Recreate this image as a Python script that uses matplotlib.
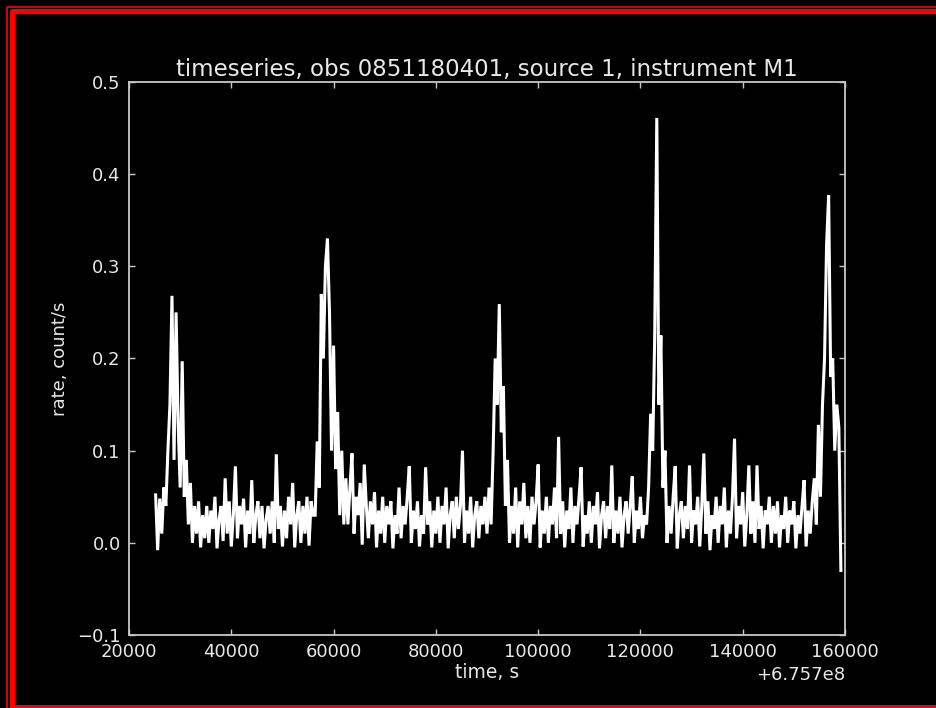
import numpy as np
import matplotlib
matplotlib.use("Agg")
import matplotlib.pyplot as plt
import matplotlib.ticker as ticker
from matplotlib.lines import Line2D

# light curve, 400 s bins, rate in count/s
t_start = 675725200.0
t_bin = 400.0

flare_1 = [0.052, -0.008, 0.048, 0.01, 0.06, 0.04, 0.10, 0.15, 0.268, 0.09,
           0.25, 0.13, 0.06, 0.197, 0.05, 0.09, 0.02, 0.065, 0.0, 0.04]
quiet_1 = [0.01, 0.045, -0.005, 0.03, 0.005, 0.04, 0.0, 0.035, 0.015, 0.05,
           -0.006, 0.025, 0.04, 0.002, 0.07, 0.01, 0.045, -0.004, 0.03, 0.083,
           0.005, 0.04, 0.02, 0.048, -0.005, 0.035, 0.01, 0.068, 0.0, 0.03,
           0.045, 0.005, 0.04, -0.006, 0.025, 0.04, 0.01, 0.045, 0.0, 0.096,
           0.015, 0.04, -0.004, 0.035, 0.005, 0.05, 0.02, 0.065, -0.005, 0.03,
           0.045, 0.0, 0.04, 0.01, 0.05, -0.003, 0.045, 0.03]
flare_2 = [0.03, 0.11, 0.06, 0.27, 0.2, 0.3, 0.33, 0.25, 0.1, 0.214,
           0.08, 0.142, 0.03, 0.1, 0.02, 0.07]
quiet_2 = [0.02, 0.06, 0.097, 0.01, 0.05, 0.03, 0.065, -0.002, 0.085, 0.04,
           0.005, 0.045, 0.02, 0.055, -0.005, 0.035, 0.01, 0.05, 0.0, 0.04,
           0.02, 0.045, -0.006, 0.03, 0.01, 0.06, 0.005, 0.04, 0.02, 0.05,
           0.083, 0.0, 0.035, 0.015, 0.045, -0.004, 0.03, 0.01, 0.082, 0.02,
           0.045, -0.005, 0.035, 0.01, 0.05, 0.0, 0.04, 0.02, 0.06, -0.006,
           0.03, 0.045, 0.005, 0.05, 0.015, 0.04, 0.1, 0.0, 0.035, 0.01,
           0.05, -0.005, 0.03, 0.045, 0.005, 0.04, 0.02, 0.05, 0.01]
flare_3 = [0.06, 0.02, 0.1, 0.2, 0.15, 0.259, 0.12, 0.17, 0.04, 0.09, 0.0]
quiet_3 = [0.04, 0.01, 0.06, -0.005, 0.045, 0.02, 0.065, 0.005, 0.04, 0.0,
           0.05, 0.02, 0.045, 0.085, -0.005, 0.035, 0.01, 0.05, 0.0, 0.04,
           0.02, 0.06, 0.005, 0.115, 0.01, 0.045, -0.005, 0.035, 0.015, 0.06,
           0.0, 0.04, 0.02, 0.05, 0.082, -0.004, 0.03, 0.01, 0.045, 0.0,
           0.04, 0.02, 0.055, -0.006, 0.03, 0.045, 0.005, 0.04, 0.015, 0.084,
           0.0, 0.035, 0.01, 0.05, -0.005, 0.03, 0.045, 0.01, 0.04, 0.072,
           0.0, 0.035, 0.015, 0.05, 0.005, 0.03]
flare_4 = [0.02, 0.06, 0.14, 0.1, 0.228, 0.461, 0.15, 0.225, 0.06, 0.1, 0.0]
quiet_4 = [0.04, 0.01, 0.05, 0.083, -0.006, 0.03, 0.045, 0.005, 0.04, 0.015,
           0.084, 0.0, 0.035, 0.02, 0.05, -0.004, 0.04, 0.097, 0.01, 0.045,
           -0.008, 0.03, 0.015, 0.05, 0.0, 0.04, 0.02, 0.06, -0.005, 0.035,
           0.01, 0.05, 0.113, 0.005, 0.04, 0.02, 0.055, -0.004, 0.03, 0.084,
           0.01, 0.045, 0.0, 0.084, 0.015, 0.04, -0.006, 0.035, 0.02, 0.05,
           0.0, 0.04, 0.01, 0.045, -0.005, 0.03, 0.015, 0.05, 0.0, 0.035,
           0.02, 0.045, -0.006, 0.03, 0.01, 0.04, 0.068, -0.004, 0.035, 0.01]
flare_5 = [0.045, 0.07, 0.02, 0.128, 0.05, 0.15, 0.2, 0.323, 0.377, 0.18,
           0.2, 0.1, 0.15, 0.125, -0.03]

rate = np.array(flare_1 + quiet_1 + flare_2 + quiet_2 + flare_3 + quiet_3
                + flare_4 + quiet_4 + flare_5)
time = t_start + t_bin * np.arange(len(rate))

fg = "#e8e8e8"
plt.rcParams["font.family"] = "DejaVu Sans"

fig = plt.figure(figsize=(9.37, 7.08), dpi=100, facecolor="black")
ax = fig.add_axes([0.1377, 0.1031, 0.7641, 0.7811], facecolor="black")

ax.plot(time, rate, color="white", lw=2.2, solid_joinstyle="miter")

ax.set_xlim(675720000, 675860000)
ax.set_ylim(-0.1, 0.5)
ax.set_xticks(np.arange(675720000, 675860001, 20000))
ax.set_yticks(np.arange(-0.1, 0.51, 0.1))

fmt = ticker.ScalarFormatter(useOffset=675700000)
ax.xaxis.set_major_formatter(fmt)

for s in ax.spines.values():
    s.set_color("#c8c8c8")
    s.set_linewidth(1.3)
ax.tick_params(direction="in", length=4, width=1, color="#c8c8c8",
               labelcolor=fg, labelsize=13, top=True, right=True, pad=6)
ax.xaxis.get_offset_text().set_color(fg)
ax.xaxis.get_offset_text().set_fontsize(13)

ax.set_title("timeseries, obs 0851180401, source 1, instrument M1",
             color=fg, fontsize=16.5, pad=4)
ax.set_xlabel("time, s", color=fg, fontsize=13.5, labelpad=1)
ax.set_ylabel("rate, count/s", color=fg, fontsize=13, labelpad=6)

# red double frame (top, left, bottom) in pixel units
W, H = 937.0, 708.0
def frame_line(xs, ys, lw):
    fig.add_artist(Line2D([x / W for x in xs], [1 - y / H for y in ys],
                          transform=fig.transFigure, color="red", lw=lw,
                          solid_capstyle="butt"))

frame_line([7.5, 7.5, W + 5], [H + 5, 6.5, 6.5], 1.2)
frame_line([12, 12, W + 5], [H + 5, 11, 11], 3.6)
frame_line([12, W + 5], [706.5, 706.5], 3.6)

fig.savefig("out.png", dpi=100, facecolor="black")
